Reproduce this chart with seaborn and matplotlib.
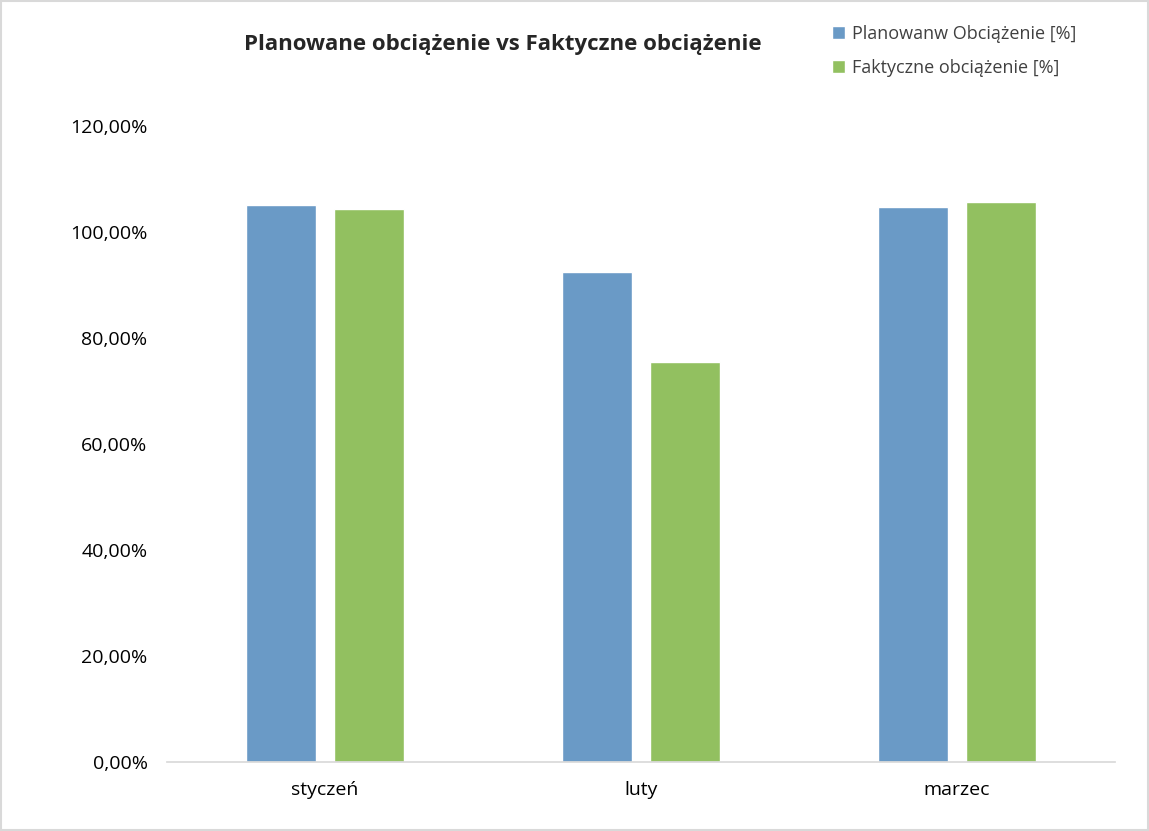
import matplotlib.pyplot as plt
import pandas as pd
import seaborn as sns
from matplotlib.ticker import FuncFormatter

months = ["styczeń", "luty", "marzec"]
series = ["Planowanw Obciążenie [%]", "Faktyczne obciążenie [%]"]
planned = [105.1, 92.5, 104.7]
actual = [104.3, 75.5, 105.7]
colors = ["#5b9bd5", "#92d050"]

df = pd.DataFrame({
    "month": months * 2,
    "series": [series[0]] * 3 + [series[1]] * 3,
    "value": [v / 100 for v in planned + actual],
})

sns.set_theme(style="white")
plt.rcParams["font.family"] = ["Open Sans", "DejaVu Sans"]

fig = plt.figure(figsize=(11.49, 8.31), dpi=100)
ax = fig.add_axes([167 / 1149, 69 / 831, 948 / 1149, 636 / 831])
sns.barplot(data=df, x="month", y="value", hue="series", palette=colors,
            width=0.56, gap=0.21, ax=ax, legend=True)

ax.set_ylim(0, 1.2)
ax.set_xlim(-0.5, 2.5)
ax.set_yticks([i * 0.2 for i in range(7)])
ax.yaxis.set_major_formatter(FuncFormatter(lambda v, _: f"{v * 100:.2f}%".replace(".", ",")))
ax.tick_params(axis="both", labelsize=14, length=0, colors="black")
ax.tick_params(axis="x", pad=14)
ax.tick_params(axis="y", pad=14)
ax.set_xlabel("")
ax.set_ylabel("")
for s in ["top", "right", "left"]:
    ax.spines[s].set_visible(False)
ax.spines["bottom"].set_color("#d9d9d9")

fig.text(0.438, 0.947, "Planowane obciążenie vs Faktyczne obciążenie",
         ha="center", va="center", fontsize=16, fontweight="bold")

handles, labels = ax.get_legend_handles_labels()
ax.legend(handles, labels, loc="upper left", bbox_to_anchor=(0.71, 0.99),
          bbox_transform=fig.transFigure, frameon=False, fontsize=13,
          handlelength=0.7, handleheight=0.7, handletextpad=0.4,
          labelspacing=0.9, labelcolor="#404040")

fig.patches.append(plt.Rectangle((0.001, 0.001), 0.998, 0.998, transform=fig.transFigure,
                                 fill=False, edgecolor="#d9d9d9", linewidth=1.5))
fig.savefig("out.png", dpi=100)
